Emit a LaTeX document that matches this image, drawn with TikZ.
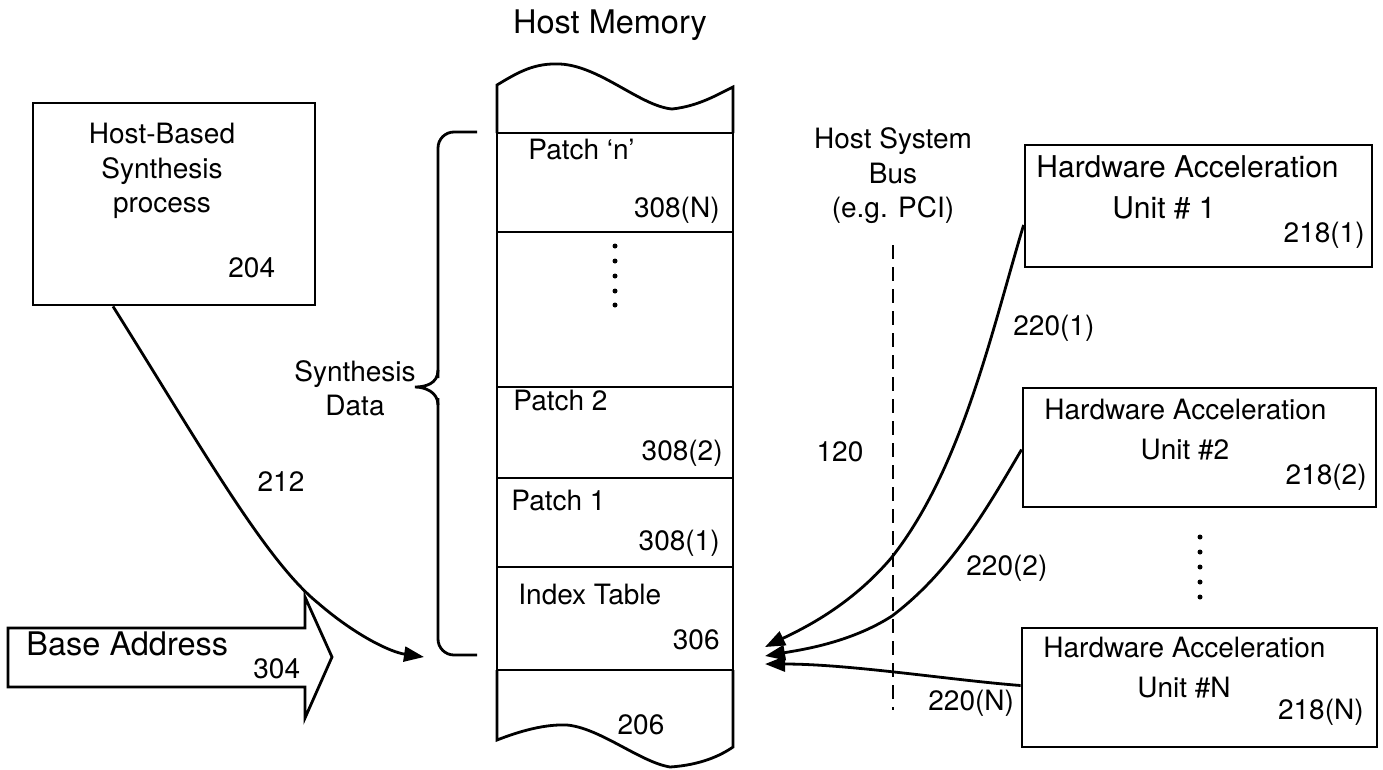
\documentclass[tikz,border=0pt]{standalone}
\usepackage{fontspec}
\setmainfont{TeX Gyre Heros}
\usetikzlibrary{arrows.meta}
\begin{document}
\begin{tikzpicture}[x=1pt,y=-1pt,
  line width=2.8pt,
  lbl/.style={inner sep=0pt,font=\fontsize{28}{34.5}\selectfont},
  big/.style={inner sep=0pt,font=\fontsize{32.5}{38}\selectfont},
  ml/.style={lbl,align=center},
  box/.style={draw,inner sep=0pt},
  cell/.style={draw,inner sep=0pt,minimum width=236pt},
  arr/.style={-{Triangle[length=20pt,width=15pt]}},
  dot/.style={fill,circle,inner sep=0pt,minimum size=5pt}]
\useasboundingbox (0,0) rectangle (1383,769);

% ---- Host memory column ----
\node[big] (title) at (610,25) {Host Memory};
\draw (497,133) -- (497,85) .. controls (520,71) and (535,63) .. (560,64)
      .. controls (600,66) and (640,106) .. (672,109)
      .. controls (700,106) and (720,93) .. (733,87) -- (733,133);
\node[cell,minimum height=99pt]  (patchn) at (615,182.5) {};
\node[cell,minimum height=155pt] (gap)    at (615,309.5) {};
\node[cell,minimum height=91pt]  (patch2) at (615,432.5) {};
\node[cell,minimum height=89pt]  (patch1) at (615,522.5) {};
\node[cell,minimum height=103pt] (index)  at (615,618.5) {};
\draw (497,670) -- (497,740) .. controls (520,731) and (545,724) .. (567,725)
      .. controls (600,728) and (640,762) .. (670,767)
      .. controls (700,765) and (720,756) .. (733,747) -- (733,670);

\node[lbl,anchor=mid west] (tpn)  at (527,157) {Patch ‘n’};
\node[lbl,anchor=mid east] (npn)  at (721,215) {308(N)};
\foreach \yy [count=\i] in {246,261,276,291,305}
  \node[dot] (gd\i) at (615,\yy) {};
\node[lbl,anchor=mid west] (tp2)  at (512,408) {Patch 2};
\node[lbl,anchor=mid east] (np2)  at (724,458) {308(2)};
\node[lbl,anchor=mid west] (tp1)  at (510,508) {Patch 1};
\node[lbl,anchor=mid east] (np1)  at (721,548) {308(1)};
\node[lbl,anchor=mid west] (tix)  at (517,602) {Index Table};
\node[lbl,anchor=mid east] (nix)  at (721,647) {306};
\node[lbl] (n206) at (641,725) {206};

% ---- Synthesis data brace ----
\draw[rounded corners=16pt] (477,132) -- (438,132) -- (438,378);
\draw (438,370) .. controls (438,384) and (425,387) .. (415,387)
      .. controls (425,387) and (438,392) .. (438,405);
\draw[rounded corners=16pt] (438,398) -- (438,655) -- (477,655);
\node[ml] (sd) at (355,388) {Synthesis\\Data};

% ---- Host-based synthesis process ----
\node[box,minimum width=282pt,minimum height=202pt] (hbs) at (174,204) {};
\node[ml] (hbst) at (162,171) {Host-Based\\Synthesis\\process};
\node[lbl,anchor=mid west] (n204) at (227,275) {204};

\coordinate (tip212) at (424,657);
\draw[arr] ([xshift=-61pt]hbs.south) .. controls (200,445) and (265,560) .. (318,603)
      .. controls (355,635) and (390,652) .. (tip212);
\node[lbl] (n212) at (281,482) {212};

% ---- Base address arrow ----
\draw (8,628) -- (305,628) -- (305,597) -- (332,657) -- (305,718) -- (305,687) -- (8,687) -- cycle;
\node[big,anchor=mid west] (ba) at (25,653) {Base Address};
\node[lbl,anchor=mid west] (n304) at (252,676) {304};

% ---- Host system bus ----
\node[ml] (hsb) at (893,176) {Host System\\Bus\\(e.g. PCI)};
\coordinate (bustop) at (893,245);
\coordinate (busbot) at (893,710);
\draw[dash pattern=on 14pt off 8pt] (bustop) -- (busbot);
\node[lbl] (n120) at (840,452) {120};

% ---- Hardware acceleration units ----
\node[box,minimum width=347pt,minimum height=122pt] (hau1) at (1198.5,206) {};
\node[lbl,font=\fontsize{30}{34}\selectfont,anchor=mid west] (h1a) at (1035,175) {Hardware Acceleration};
\node[lbl,font=\fontsize{30}{34}\selectfont] (h1b) at (1164,208) {Unit \# 1};
\node[lbl,anchor=mid east] (h1c) at (1366,240) {218(1)};

\node[box,minimum width=353pt,minimum height=119pt] (hau2) at (1199.5,447.5) {};
\node[lbl,anchor=mid west] (h2a) at (1043,417) {Hardware Acceleration};
\node[lbl] (h2b) at (1185,450) {Unit \#2};
\node[lbl,anchor=mid east] (h2c) at (1368,482) {218(2)};

\foreach \yy [count=\i] in {537,552,567,582,597}
  \node[dot] (hd\i) at (1200,\yy) {};

\node[box,minimum width=355pt,minimum height=119pt] (haun) at (1199.5,687.5) {};
\node[lbl,anchor=mid west] (hna) at (1042,655) {Hardware Acceleration};
\node[lbl] (hnb) at (1184,688) {Unit \#N};
\node[lbl,anchor=mid east] (hnc) at (1365,717) {218(N)};

% ---- Connectors 220 ----
\coordinate (t1) at (765,647);
\coordinate (t2) at (765,656);
\coordinate (tn) at (765,664);
\draw[arr] ([yshift=-19pt]hau1.west) .. controls (992,330) and (962,468) .. (892,557)
      .. controls (850,607) and (800,630) .. (t1);
\draw[arr] ([yshift=-2pt]hau2.west) .. controls (985,512) and (950,572) .. (892,616)
      .. controls (850,643) and (800,650) .. (t2);
\draw[arr] ([yshift=2pt]haun.west) .. controls (950,680) and (850,664) .. (tn);
\node[lbl,anchor=mid west] (l1) at (1012,333) {220(1)};
\node[lbl,anchor=mid west] (l2) at (965,573) {220(2)};
\node[lbl,anchor=mid west] (ln) at (927,708) {220(N)};
\end{tikzpicture}
\end{document}
